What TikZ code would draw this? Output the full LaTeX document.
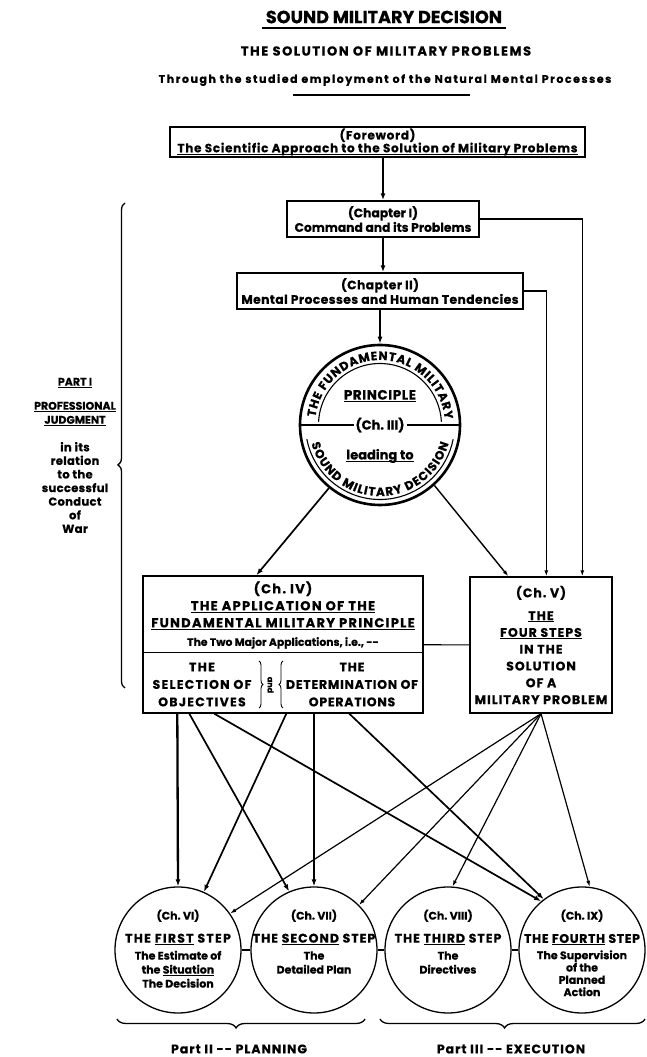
\documentclass[tikz,border=0pt]{standalone}
\usepackage{fontspec}
\setmainfont{Poppins}[BoldFeatures={FakeBold=0.6}]
\usetikzlibrary{positioning,arrows.meta,decorations.pathreplacing,decorations.text}
\newcommand{\thickul}[1]{\setbox0=\hbox{#1}\rlap{\rule[-2.4pt]{\wd0}{1pt}}\box0\relax}
\newcommand{\ls}[2]{\fontsize{#1}{#1}\selectfont\addfontfeature{LetterSpace=#2}}
\tikzset{
  chap box/.style={draw, line width=1.4pt, align=center, inner sep=0pt,
    font=\bfseries\fontsize{12.3}{14.5}\selectfont},
  step circle/.style={draw, circle, line width=1.3pt, minimum size=126pt, inner sep=0pt},
  step text/.style={align=center, anchor=north, inner sep=0pt,
    font=\bfseries\fontsize{11}{14}\selectfont},
  main arrow/.style={line width=2.3pt, -{Latex[length=7pt,width=5pt]}},
  mid arrow/.style={line width=1.7pt, -{Latex[length=7pt,width=5pt]}},
  thin arrow/.style={line width=1.2pt, -{Latex[length=6pt,width=4pt]}},
  side label/.style={align=center, font=\bfseries\fontsize{11.5}{13.6}\selectfont\addfontfeature{LetterSpace=3}},
  curly/.style={decorate, line width=1.3pt},
}
\begin{document}
\begin{tikzpicture}[x=1pt,y=1pt]
\useasboundingbox (0,0) rectangle (647,1057);

% titles
\node[font=\bfseries\fontsize{17.6}{19}\selectfont] (title) at (384,1040) {SOUND MILITARY DECISION};
\draw[line width=2.6pt] ([yshift=-1pt]title.south west) -- ([yshift=-1pt]title.south east);
\node[font=\bfseries\ls{13}{12}] (sub) at (386,1006) {THE SOLUTION OF MILITARY PROBLEMS};
\node[font=\bfseries\ls{11}{14}] (thru) at (385,977) {Through the studied employment of the Natural Mental Processes};
\coordinate (rl) at (293,962);
\coordinate (rr) at (470,962);
\draw[line width=1.3pt] (rl) -- (rr);

% chapter boxes
\node[chap box, minimum width=415pt, minimum height=30pt,
  font=\bfseries\fontsize{12}{12.8}\selectfont\addfontfeature{LetterSpace=6}] (fwd) at (377.5,915)
  {(Foreword)\\\thickul{The Scientific Approach to the Solution of Military Problems}};
\node[chap box, minimum width=192pt, minimum height=36pt] (ch1) at (383,838)
  {(Chapter I)\\Command and its Problems};
\node[chap box, minimum width=286pt, minimum height=36pt,
  font=\bfseries\fontsize{12.3}{14.5}\selectfont\addfontfeature{LetterSpace=3.5}] (ch2) at (380,766)
  {(Chapter II)\\Mental Processes and Human Tendencies};

% the principle
\node[draw, circle, line width=2.6pt, minimum size=160pt] (prin) at (380,632) {};
\draw[line width=1.1pt] (prin.west) -- (prin.east);
\node[fill=white, inner sep=2pt, font=\bfseries\fontsize{13}{14}\selectfont] (ch3) at (380,632) {(Ch.~III)};
\node[font=\bfseries\ls{13.5}{4}] (princ) at (380,661) {\thickul{PRINCIPLE}};
\node[font=\bfseries\fontsize{13}{14}\selectfont] (lead) at (380,601) {\thickul{leading to}};
\path[decorate, decoration={text along path, text align=fit to path,
  text={|\bfseries\fontsize{12}{12}\selectfont|THE FUNDAMENTAL MILITARY}}]
  ([shift={(173:65)}]prin.center) arc[start angle=173, end angle=5, radius=65];
\draw[line width=1.1pt] ([shift={(177:61.5)}]prin.center) arc[start angle=177, end angle=3, radius=61.5];
\path[decorate, decoration={text along path, text align=fit to path,
  text={|\bfseries\fontsize{12}{12}\selectfont|SOUND MILITARY DECISION}}]
  ([shift={(195:71)}]prin.center) arc[start angle=195, end angle=345, radius=71];
\draw[line width=1.1pt] ([shift={(191:74.5)}]prin.center) arc[start angle=191, end angle=349, radius=74.5];

% chapter IV
\node[draw, line width=1.4pt, minimum width=280pt, minimum height=137pt] (ch4) at (283,412.5) {};
\draw[line width=1.1pt] ([yshift=-77pt]ch4.north west) -- ([yshift=-77pt]ch4.north east);
\node[align=center, anchor=north, inner sep=0pt, font=\bfseries\fontsize{13}{17}\selectfont\addfontfeature{LetterSpace=10}] (ch4top)
  at ([yshift=-6pt]ch4.north)
  {(Ch.~IV)\\\thickul{THE APPLICATION OF THE}\\\thickul{FUNDAMENTAL MILITARY PRINCIPLE}\\[1.5pt]
   {\ls{10.8}{0}The Two Major Applications, i.e.,~-{}-}};
\node[align=center, font=\bfseries\fontsize{12.5}{17.5}\selectfont\addfontfeature{LetterSpace=10}] (sel) at (202,372.5)
  {THE\\SELECTION OF\\OBJECTIVES};
\node[align=center, font=\bfseries\fontsize{12.5}{17.5}\selectfont\addfontfeature{LetterSpace=6}] (det) at (352,372.5)
  {THE\\DETERMINATION OF\\OPERATIONS};
\coordinate (b1t) at (259,396);
\coordinate (b1b) at (259,349);
\coordinate (b2t) at (283,396);
\coordinate (b2b) at (283,349);
\draw[curly, line width=0.9pt, decoration={brace, amplitude=4pt}] (b1t) -- (b1b);
\draw[curly, line width=0.9pt, decoration={brace, amplitude=4pt}] (b2b) -- (b2t);
\node[rotate=-90, inner sep=0pt, font=\bfseries\fontsize{8}{8}\selectfont] (and) at (270.5,372) {and};

% chapter V
\node[chap box, minimum width=142pt, minimum height=136pt,
  font=\bfseries\fontsize{12.5}{16.8}\selectfont\addfontfeature{LetterSpace=8}] (ch5) at (541,412)
  {(Ch.~V)\\[6pt]\thickul{THE}\\\thickul{FOUR STEPS}\\IN THE\\SOLUTION\\OF A\\MILITARY PROBLEM};
\draw[line width=1.1pt] (ch4) -- (ch5);

% part I
\coordinate (lb) at (125,369);
\coordinate (lt) at (125,854);
\draw[curly, decoration={brace, amplitude=7pt, aspect=0.46}] (lb) -- (lt);
\node[side label, font=\bfseries\fontsize{11}{13}\selectfont] (part1) at (75,674) {\thickul{PART I}};
\node[side label, font=\bfseries\fontsize{11}{14}\selectfont] (prof) at (75,643)
  {\thickul{PROFESSIONAL}\\\thickul{JUDGMENT}};
\node[side label] (rel) at (75,569.5)
  {in its\\relation\\to the\\successful\\Conduct\\of\\War};

% the four steps
\node[step circle] (s1) at (178,107) {};
\node[step circle] (s2) at (314,107) {};
\node[step circle] (s3) at (448,107) {};
\node[step circle] (s4) at (582,107) {};
\draw[line width=1.1pt] (s1) -- (s2);
\draw[line width=1.1pt] (s2) -- (s3);
\draw[line width=1.1pt] (s3) -- (s4);
\node[step text] (t1) at ([yshift=-23pt]s1.north)
  {(Ch.~VI)\\[9pt]{\ls{12.5}{10}THE \thickul{FIRST} STEP}\\[3pt]
   The Estimate of\\the \thickul{Situation}\\The Decision};
\node[step text] (t2) at ([yshift=-23pt]s2.north)
  {(Ch.~VII)\\[9pt]{\ls{12.5}{8}THE \thickul{SECOND} STEP}\\[3pt]
   The\\Detailed Plan};
\node[step text] (t3) at ([yshift=-23pt]s3.north)
  {(Ch.~VIII)\\[9pt]{\ls{12.5}{8}THE \thickul{THIRD} STEP}\\[3pt]
   The\\Directives};
\node[step text, font=\bfseries\fontsize{11}{12.3}\selectfont] (t4) at ([yshift=-23pt]s4.north)
  {(Ch.~IX)\\[11pt]{\ls{12.5}{5}THE \thickul{FOURTH} STEP}\\[4pt]
   The Supervision\\of the\\Planned\\Action};

% connectors
\draw[main arrow] (fwd.south -| ch1) -- (ch1.north);
\draw[main arrow] (ch1.south) -- (ch1.south |- ch2.north);
\draw[main arrow] (ch2.south -| prin) -- (prin.north);
\coordinate (v1) at ([xshift=113pt]ch5.north west);
\coordinate (v2) at ([xshift=77pt]ch5.north west);
\draw[thin arrow, line width=1.4pt] (ch1.east) -| (v1);
\draw[thin arrow, line width=1.4pt] (ch2.east) -| (v2);
\draw[mid arrow] (prin.231) -- ([xshift=114pt]ch4.north west);
\draw[thin arrow, line width=1.4pt] (prin.312) -- ([xshift=39pt]ch5.north west);

\draw[main arrow] ([xshift=35pt]ch4.south west) -- (s1.north);
\draw[main arrow] (ch4.south -| s2) -- (s2.north);
\draw[mid arrow] ([xshift=47pt]ch4.south west) -- (s2.113);
\draw[mid arrow] ([xshift=144pt]ch4.south west) -- (s1.66);
\draw[mid arrow] ([xshift=72pt]ch4.south west) -- (s4.130);
\draw[mid arrow] ([xshift=207pt]ch4.south west) -- (s4.127);
\draw[thin arrow] (ch5.south) -- (s1.35);
\draw[thin arrow] (ch5.south) -- (s2.45);
\draw[thin arrow] (ch5.south) -- (s3.86);
\draw[thin arrow] (ch5.south) -- (s4.83);

% parts II and III
\coordinate (p2l) at (117,38);
\coordinate (p2r) at (365,38);
\coordinate (p3l) at (380,38);
\coordinate (p3r) at (645,38);
\draw[curly, decoration={brace, amplitude=9pt, aspect=0.52}] (p2r) -- (p2l);
\draw[curly, decoration={brace, amplitude=9pt, aspect=0.53}] (p3r) -- (p3l);
\node[font=\bfseries\ls{12.5}{8}] (plan) at (239,8) {Part II -{}- PLANNING};
\node[font=\bfseries\ls{12.5}{8}] (exec) at (511,8) {Part III -{}- EXECUTION};
\end{tikzpicture}
\end{document}
